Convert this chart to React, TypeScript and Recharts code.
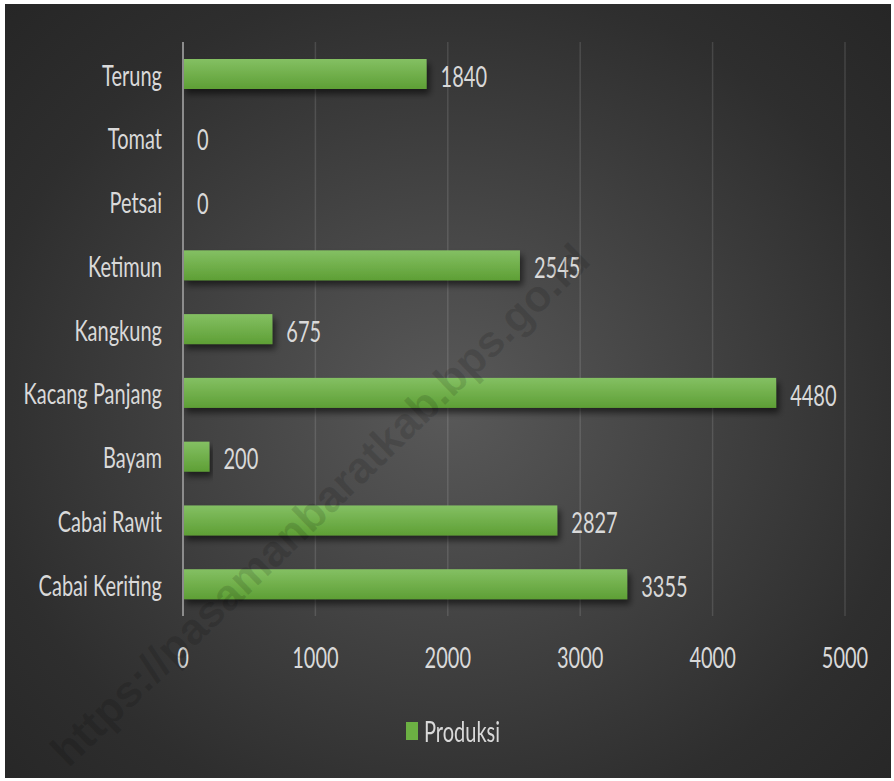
import React from 'react';
import { BarChart, Bar, XAxis, YAxis, CartesianGrid, Legend, LabelList } from 'recharts';

const categories = ['Terung', 'Tomat', 'Petsai', 'Ketimun', 'Kangkung', 'Kacang Panjang', 'Bayam', 'Cabai Rawit', 'Cabai Keriting'];
const produksi = [1840, 0, 0, 2545, 675, 4480, 200, 2827, 3355];
const xTicks = [0, 1000, 2000, 3000, 4000, 5000];

const data = categories.map((nama, i) => ({ nama, produksi: produksi[i] }));

const FONT = "Lato, 'DejaVu Sans Condensed', sans-serif";
const TEXT = '#d9d9d9';
const FS = 29;
const SX = 0.69; // teks dipersempit, mirip font Calibri yang tinggi

const NarrowText = ({ x, y, anchor, children }: any) => (
  <text
    transform={`translate(${x},${y}) scale(${SX},1)`}
    textAnchor={anchor}
    dominantBaseline="central"
    fill={TEXT}
    fontSize={FS}
    fontFamily={FONT}
  >
    {children}
  </text>
);

const YTick = (props: any) => (
  <NarrowText x={props.x} y={props.y} anchor="end">{props.payload.value}</NarrowText>
);

const XTick = (props: any) => (
  <NarrowText x={props.x} y={props.y + 32} anchor="middle">{props.payload.value}</NarrowText>
);

const ValueLabel = (props: any) => {
  const { x, y, width, height, value } = props;
  return <NarrowText x={x + width + 14} y={y + height / 2 + 1} anchor="start">{value}</NarrowText>;
};

// batang dengan gradasi hijau dan bayangan tipis
const BarShape = (props: any) => {
  const { x, y, width, height } = props;
  if (!width || width <= 0) return null;
  return <rect x={x} y={y} width={width} height={height} fill="url(#gradHijau)" filter="url(#bayangan)" />;
};

const LegendBox = () => (
  <div style={{ display: 'flex', alignItems: 'center', height: 24, paddingLeft: 401 }}>
    <span style={{ display: 'inline-block', width: 12, height: 18, background: '#6cb043' }} />
    <span
      style={{
        display: 'inline-block',
        width: 100,
        marginLeft: 6,
        color: TEXT,
        fontSize: FS,
        fontFamily: FONT,
        lineHeight: '24px',
        transform: `scaleX(${SX})`,
        transformOrigin: 'left center',
        whiteSpace: 'nowrap',
      }}
    >
      Produksi
    </span>
  </div>
);

export default function App() {
  return (
    <div style={{ position: 'relative', width: 894, height: 781, background: '#fff', fontFamily: FONT }}>
      <style>{'body{margin:0}'}</style>
      <div
        style={{
          position: 'absolute',
          left: 5,
          top: 4,
          width: 886,
          height: 774,
          background: 'radial-gradient(ellipse at 50% 52%, #595959 0%, #454545 35%, #2e2e2e 75%, #262626 100%)',
          overflow: 'hidden',
        }}
      >
        <BarChart
          width={886}
          height={774}
          data={data}
          layout="vertical"
          margin={{ top: 38, right: 46, bottom: 108, left: 0 }}
          barCategoryGap={0}
        >
          <defs>
            <linearGradient id="gradHijau" x1="0" y1="0" x2="0" y2="1">
              <stop offset="0%" stopColor="#84c063" />
              <stop offset="100%" stopColor="#5e9f35" />
            </linearGradient>
            <filter id="bayangan" x="-5%" y="-20%" width="115%" height="160%">
              <feDropShadow dx="3" dy="5" stdDeviation="3" floodColor="#000" floodOpacity="0.55" />
            </filter>
          </defs>
          <CartesianGrid horizontal={false} stroke="rgba(255,255,255,0.12)" strokeWidth={1.5} />
          <XAxis
            type="number"
            domain={[0, 5000]}
            ticks={xTicks}
            axisLine={false}
            tickLine={false}
            tick={<XTick />}
            interval={0}
          />
          <YAxis
            type="category"
            dataKey="nama"
            width={178}
            axisLine={{ stroke: '#8c8c8c', strokeWidth: 2 }}
            tickLine={false}
            tick={<YTick />}
            tickMargin={15}
            interval={0}
          />
          <Legend
            verticalAlign="bottom"
            content={<LegendBox />}
            wrapperStyle={{ top: 715, left: 0, width: 886 }}
          />
          <Bar
            dataKey="produksi"
            name="Produksi"
            fill="#6fb043"
            barSize={30}
            shape={BarShape}
            isAnimationActive={false}
          >
            <LabelList dataKey="produksi" content={<ValueLabel />} />
          </Bar>
        </BarChart>
        <div
          style={{
            position: 'absolute',
            left: 320 - 5,
            top: 505 - 4,
            transform: 'translate(-50%, -50%) rotate(-44deg)',
            whiteSpace: 'nowrap',
            fontFamily: "'Liberation Sans', Arial, sans-serif",
            fontWeight: 'bold',
            fontSize: 44,
            color: 'rgba(0,0,0,0.12)',
            pointerEvents: 'none',
          }}
        >
          https://pasamanbaratkab.bps.go.id
        </div>
      </div>
    </div>
  );
}
